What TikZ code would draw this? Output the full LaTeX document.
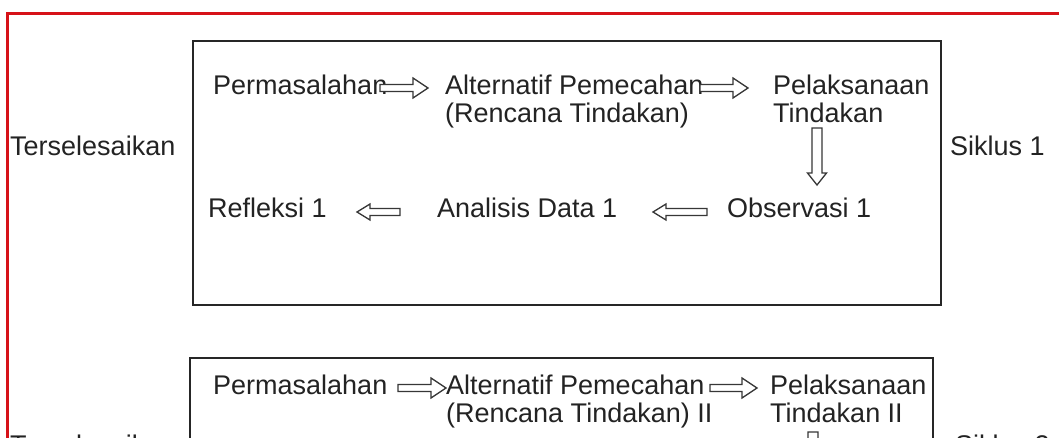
\documentclass[tikz,border=0pt]{standalone}
\usepackage{fontspec}
\setmainfont{Liberation Sans}
\usetikzlibrary{calc}
\definecolor{frame}{RGB}{214,18,24}
\definecolor{ink}{RGB}{35,35,35}
\definecolor{arr}{RGB}{55,55,55}
\tikzset{
  arrowline/.style={draw=arr, line width=1.3pt, fill=white, line join=miter},
  boxline/.style={draw=black!85, line width=1.5pt},
  frameline/.style={draw=frame, line width=3pt},
  lbl/.style={inner sep=0pt, anchor=north west, align=left, text=ink}
}
% #1 shaft half width, #2 head half width, #3 head length, #4 start, #5 tip
\newcommand\blockarrow[5]{%
  \draw[arrowline] let \p1=#4, \p2=#5, \p3=($(\p2)!#3pt!(\p1)$) in
   ($(\p1)!#1pt!90:(\p2)$) -- ($(\p3)!#1pt!90:(\p2)$) -- ($(\p3)!#2pt!90:(\p2)$) -- (\p2)
   -- ($(\p3)!#2pt!-90:(\p2)$) -- ($(\p3)!#1pt!-90:(\p2)$) -- ($(\p1)!#1pt!-90:(\p2)$) -- cycle;}
\begin{document}
\begin{tikzpicture}[x=1pt, y=-1pt, font=\fontsize{27}{28}\selectfont]
\clip (0,0) rectangle (1059,437);
\fill[white] (0,0) rectangle (1059,437);
% red frame
\draw[frameline] (1070,13) -- (7,13) -- (7,460);
% boxes
\draw[boxline] (193,41) rectangle (941,305);
\draw[boxline] (190,358) rectangle (933,520);
% cycle 1
\node[lbl] (t1) at (10,136) {Terselesaikan};
\node[lbl] (s1) at (950,136) {Siklus 1};
\node[lbl] (perm) at (213,75) {Permasalahan};
\node[lbl] (alt) at (445,75) {Alternatif Pemecahan\\(Rencana Tindakan)};
\node[lbl] (pel) at (773,75) {Pelaksanaan\\Tindakan};
\node[lbl] (ref) at (208,198) {Refleksi 1};
\node[lbl] (ana) at (437,198) {Analisis Data 1};
\node[lbl] (obs) at (727,198) {Observasi 1};
\blockarrow{3.5}{10}{15}{($(perm.north west)+(167,13)$)}{($(alt.north west)+(-17,13)$)}
\blockarrow{3.5}{10}{15}{($(alt.north west)+(255,13)$)}{($(pel.north west)+(-25,13)$)}
\blockarrow{5}{9.5}{12}{($(pel.north west)+(44,53)$)}{($(obs.north west)+(90,-13)$)}
\blockarrow{3.5}{8}{13}{($(obs.north west)+(-20,14)$)}{($(ana.north west)+(216,14)$)}
\blockarrow{3.5}{8}{13}{($(ana.north west)+(-37,14)$)}{($(ref.north west)+(149,14)$)}
% cycle 2
\node[lbl] (perm2) at (213,374.5) {Permasalahan};
\node[lbl] (alt2) at (446,374.5) {Alternatif Pemecahan\\(Rencana Tindakan) II};
\node[lbl] (pel2) at (770,374.5) {Pelaksanaan\\Tindakan II};
\node[lbl] (t2) at (10,435) {Terselesaikan};
\node[lbl] (s2) at (955,435) {Siklus 2};
\coordinate (obs2) at (813,495);
\blockarrow{3.5}{10}{15}{($(perm2.north west)+(185,13.5)$)}{($(alt2.north west)+(0,13.5)$)}
\blockarrow{3.5}{10}{15}{($(alt2.north west)+(264,13.5)$)}{($(pel2.north west)+(-13,13.5)$)}
\blockarrow{5}{9.5}{12}{($(pel2.north west)+(43,57.5)$)}{(obs2)}
\end{tikzpicture}
\end{document}
